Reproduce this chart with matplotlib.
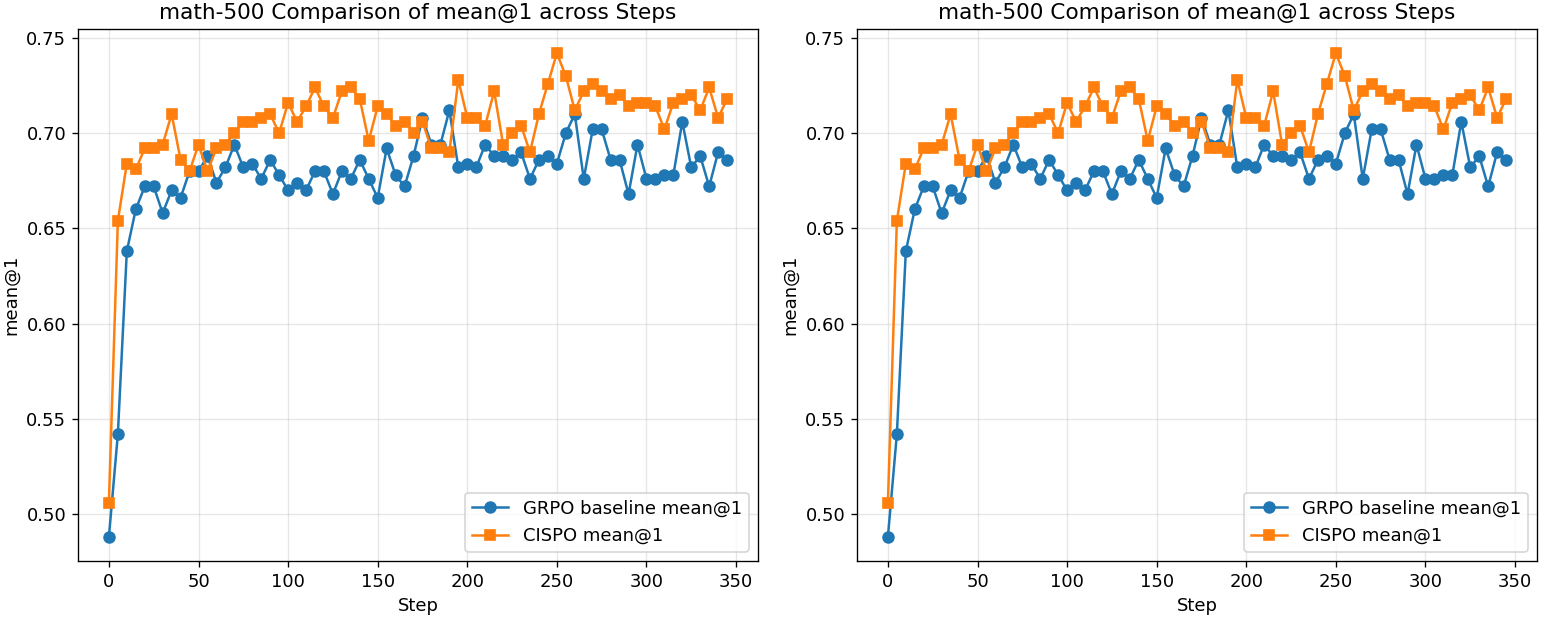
import matplotlib
matplotlib.use("Agg")
import matplotlib.pyplot as plt
import numpy as np

steps = list(range(0, 350, 5))

grpo = [0.488, 0.542, 0.638, 0.660, 0.672, 0.672, 0.658, 0.670, 0.666, 0.680,
        0.680, 0.688, 0.674, 0.682, 0.694, 0.682, 0.684, 0.676, 0.686, 0.678,
        0.670, 0.674, 0.670, 0.680, 0.680, 0.668, 0.680, 0.676, 0.686, 0.676,
        0.666, 0.692, 0.678, 0.672, 0.688, 0.708, 0.694, 0.694, 0.712, 0.682,
        0.684, 0.682, 0.694, 0.688, 0.688, 0.686, 0.690, 0.676, 0.686, 0.688,
        0.684, 0.700, 0.710, 0.676, 0.702, 0.702, 0.686, 0.686, 0.668, 0.694,
        0.676, 0.676, 0.678, 0.678, 0.706, 0.682, 0.688, 0.672, 0.690, 0.686]

cispo = [0.506, 0.654, 0.684, 0.681, 0.692, 0.692, 0.694, 0.710, 0.686, 0.680,
         0.694, 0.680, 0.692, 0.694, 0.700, 0.706, 0.706, 0.708, 0.710, 0.700,
         0.716, 0.706, 0.714, 0.724, 0.714, 0.708, 0.722, 0.724, 0.718, 0.696,
         0.714, 0.710, 0.704, 0.706, 0.700, 0.706, 0.692, 0.692, 0.690, 0.728,
         0.708, 0.708, 0.704, 0.722, 0.694, 0.700, 0.704, 0.690, 0.710, 0.726,
         0.742, 0.730, 0.712, 0.722, 0.726, 0.722, 0.718, 0.720, 0.714, 0.716,
         0.716, 0.714, 0.702, 0.716, 0.718, 0.720, 0.712, 0.724, 0.708, 0.718]

title = "math-500 Comparison of mean@1 across Steps"

plt.rcParams["font.size"] = 10.8
plt.rcParams["axes.titlesize"] = 13

fig = plt.figure(figsize=(13, 628 / 120), dpi=120)
W, H = 1560, 628
positions = [(78, 29, 758, 561), (857, 29, 1537, 561)]

for (l, t, r, b) in positions:
    ax = fig.add_axes([l / W, (H - b) / H, (r - l) / W, (b - t) / H])
    ax.plot(steps, grpo, marker="o", color="#1f77b4", markersize=6.5,
            label="GRPO baseline mean@1")
    ax.plot(steps, cispo, marker="s", color="#ff7f0e", markersize=6.5,
            label="CISPO mean@1")
    ax.set_title(title)
    ax.set_xlabel("Step")
    ax.set_ylabel("mean@1")
    ax.grid(True, alpha=0.3)
    ax.legend(loc="lower right")

fig.savefig("out.png", dpi=120)
